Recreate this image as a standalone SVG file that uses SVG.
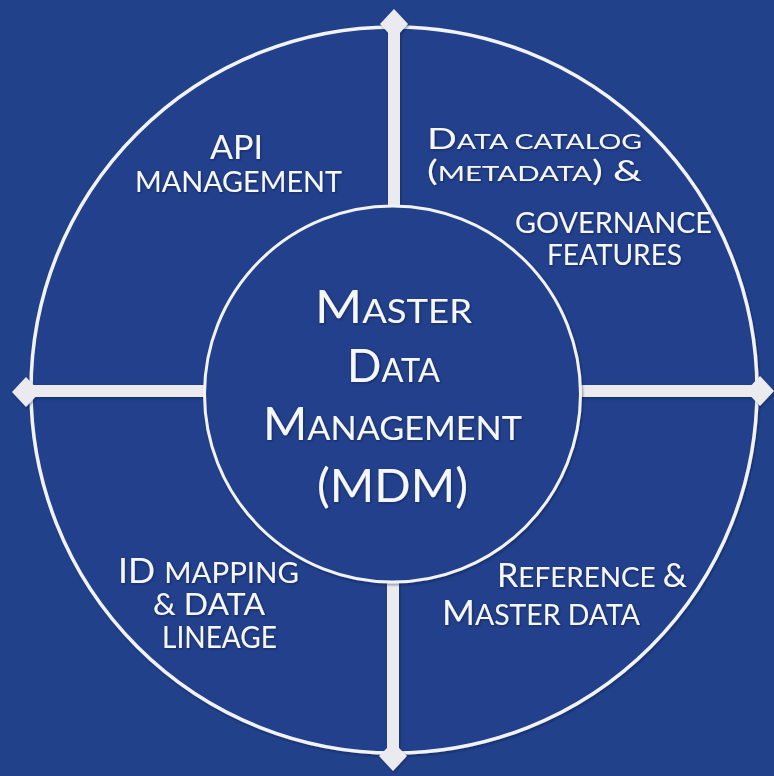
<svg xmlns="http://www.w3.org/2000/svg" width="774" height="776" viewBox="0 0 774 776">
  <defs>
    <filter id="sh" x="-10%" y="-10%" width="120%" height="120%">
      <feDropShadow dx="1" dy="1.5" stdDeviation="1.2" flood-color="#0a1430" flood-opacity="0.45"/>
    </filter>
    <filter id="tsh" x="-5%" y="-20%" width="110%" height="140%">
      <feDropShadow dx="0.8" dy="1" stdDeviation="0.8" flood-color="#0a1430" flood-opacity="0.5"/>
    </filter>
  </defs>
  <style>
    .ring { fill: #22418b; stroke: #f2f3f8; stroke-width: 3.5; }
    .core { fill: #22418b; stroke: #f2f3f8; stroke-width: 3; }
    .bar { fill: #ebeaee; }
    .dia { fill: #ebeaee; }
    text { font-family: "Lato", "Open Sans", "Liberation Sans", sans-serif; fill: #f6f7fb; }
  </style>

  <rect x="0" y="0" width="774" height="776" fill="#22418b"/>

  <g id="ring" filter="url(#sh)">
    <circle class="ring" cx="394" cy="390" r="363"/>
  </g>

  <g id="connectors" filter="url(#sh)">
    <rect class="bar" x="388" y="24" width="12" height="184"/>
    <rect class="bar" x="387" y="580" width="12" height="176"/>
    <rect class="bar" x="26" y="385" width="181" height="12"/>
    <rect class="bar" x="578" y="385" width="182" height="12"/>
    <polygon class="dia" points="394,9 408,24 394,39 380,24"/>
    <polygon class="dia" points="12,392 26,377 40,392 26,407"/>
    <polygon class="dia" points="746,391 760,376 774,391 760,406"/>
    <polygon class="dia" points="379,756 393,742 407,756 393,771"/>
  </g>

  <g id="mdm">
    <circle class="core" cx="392.5" cy="394" r="188" filter="url(#sh)"/>
    <g filter="url(#tsh)">
      <text x="315" y="323" textLength="157" lengthAdjust="spacingAndGlyphs"><tspan font-size="46">M</tspan><tspan font-size="33">ASTER</tspan></text>
      <text x="347" y="382" textLength="93" lengthAdjust="spacingAndGlyphs"><tspan font-size="46">D</tspan><tspan font-size="33">ATA</tspan></text>
      <text x="263" y="440" textLength="259" lengthAdjust="spacingAndGlyphs"><tspan font-size="46">M</tspan><tspan font-size="33">ANAGEMENT</tspan></text>
      <text x="317" y="502" font-size="46" textLength="151" lengthAdjust="spacingAndGlyphs">(MDM)</text>
    </g>
  </g>

  <g id="api-management" filter="url(#tsh)">
    <text x="210" y="159" font-size="33" textLength="53" lengthAdjust="spacingAndGlyphs">API</text>
    <text x="135" y="192" font-size="29" textLength="207" lengthAdjust="spacingAndGlyphs">MANAGEMENT</text>
  </g>

  <g id="data-catalog" filter="url(#tsh)">
    <text x="427" y="149" textLength="215" lengthAdjust="spacingAndGlyphs"><tspan font-size="29">D</tspan><tspan font-size="21">ATA CATALOG</tspan></text>
    <text x="427" y="181" textLength="215" lengthAdjust="spacingAndGlyphs"><tspan font-size="29">(</tspan><tspan font-size="21">METADATA</tspan><tspan font-size="29">) &amp;</tspan></text>
    <text x="515" y="233" font-size="28" textLength="197" lengthAdjust="spacingAndGlyphs">GOVERNANCE</text>
    <text x="547" y="265" font-size="29" textLength="135" lengthAdjust="spacingAndGlyphs">FEATURES</text>
  </g>

  <g id="id-mapping" filter="url(#tsh)">
    <text x="118" y="583" textLength="181" lengthAdjust="spacingAndGlyphs"><tspan font-size="34">ID </tspan><tspan font-size="28">MAPPING</tspan></text>
    <text x="153" y="615" font-size="30" textLength="112" lengthAdjust="spacingAndGlyphs">&amp; DATA</text>
    <text x="162" y="648" font-size="30" textLength="115" lengthAdjust="spacingAndGlyphs">LINEAGE</text>
  </g>

  <g id="reference-master" filter="url(#tsh)">
    <text x="497" y="587" textLength="190" lengthAdjust="spacingAndGlyphs"><tspan font-size="33">R</tspan><tspan font-size="27">EFERENCE </tspan><tspan font-size="33">&amp;</tspan></text>
    <text x="442" y="625" textLength="198" lengthAdjust="spacingAndGlyphs"><tspan font-size="35">M</tspan><tspan font-size="28">ASTER DATA</tspan></text>
  </g>
</svg>
